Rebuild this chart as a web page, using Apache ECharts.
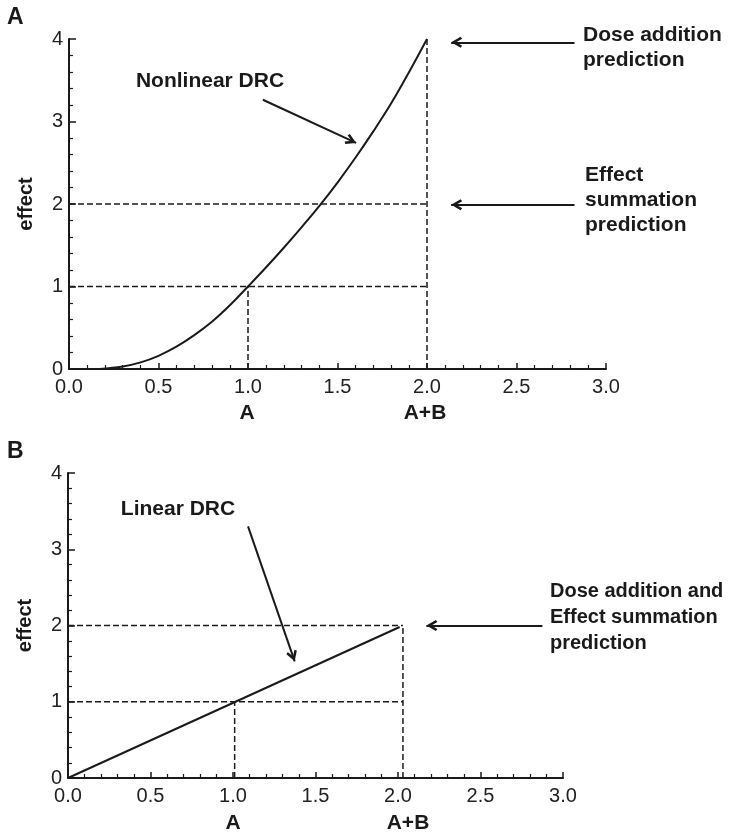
<!DOCTYPE html>
<html>
<head>
<meta charset="utf-8">
<script src="https://cdn.jsdelivr.net/npm/echarts@6/dist/echarts.min.js"></script>
<style>
  html, body { margin: 0; padding: 0; background: #fff; }
  #chart { width: 735px; height: 834px; }
</style>
</head>
<body>
<div id="chart"></div>
<script>
// ---- data ----
// panel A: nonlinear dose-response curve
var curveX = [0.17, 0.3, 0.4, 0.5, 0.6, 0.7, 0.8, 0.9, 1.0, 1.1, 1.2, 1.3, 1.4, 1.5, 1.6, 1.7, 1.8, 1.9, 2.0];
var curveY = [0, 0.03, 0.08, 0.16, 0.27, 0.41, 0.575, 0.775, 1.0, 1.23, 1.47, 1.72, 1.98, 2.26, 2.56, 2.88, 3.22, 3.6, 4.0];
// panel B: linear dose-response line
var lineX = [0, 2.01];
var lineY = [0, 1.98];

// dashed guides [x1, y1, x2, y2]
var guidesA = [[0, 1, 2.0, 1], [0, 2, 2.0, 2], [1.0, 0, 1.0, 1], [2.0, 0, 2.0, 4]];
var guidesB = [[0, 1, 2.03, 1], [0, 2, 2.03, 2], [1.01, 0, 1.01, 1], [2.03, 0, 2.03, 2]];

// annotation arrows [fromX, fromY, toX, toY]
var arrowsA = [[1.083, 3.264, 1.604, 2.74], [2.824, 3.96, 2.135, 3.96], [2.824, 1.99, 2.135, 1.99]];
var arrowsB = [[1.091, 3.30, 1.374, 1.53], [2.875, 2.0, 2.172, 2.0]];

var xTicks = { min: 0, max: 3, interval: 0.5 };
var yTicks = { min: 0, max: 4, interval: 1 };

var chart = echarts.init(document.getElementById('chart'));

var ink = '#1a1a1a';
var font = '"Liberation Sans", Arial, Helvetica, sans-serif';
var headPath = 'path://M5,0L10,8.6L8.2,10L5,4.6L1.8,10L0,8.6Z';

function xAxis(idx) {
  return {
    gridIndex: idx, type: 'value',
    min: xTicks.min, max: xTicks.max, interval: xTicks.interval,
    axisLine: { lineStyle: { color: ink, width: 2 } },
    axisTick: { inside: true, length: 6, lineStyle: { color: ink, width: 1.5 } },
    minorTick: { show: true, splitNumber: 5, length: 4, lineStyle: { color: ink, width: 1.2 } },
    splitLine: { show: false },
    axisLabel: { color: '#222', fontSize: 20, fontFamily: font, margin: 8,
      formatter: function(v) { return v.toFixed(1) } }
  }
}
function yAxis(idx) {
  return {
    gridIndex: idx, type: 'value',
    min: yTicks.min, max: yTicks.max, interval: yTicks.interval,
    name: 'effect', nameLocation: 'middle', nameRotate: 90, nameGap: 33,
    nameTextStyle: { color: ink, fontSize: 20, fontWeight: 'bold', fontFamily: font },
    axisLine: { lineStyle: { color: ink, width: 2 } },
    axisTick: { inside: true, length: 7, lineStyle: { color: ink, width: 1.5 } },
    minorTick: { show: true, splitNumber: 5, length: 4, lineStyle: { color: ink, width: 1.2 } },
    splitLine: { show: false },
    axisLabel: { color: '#222', fontSize: 20, fontFamily: font, margin: 6 }
  }
}

// dashed guide lines as two-point series
function guideSeries(list, idx) {
  return list.map(function(g) {
    return {
      type: 'line', xAxisIndex: idx, yAxisIndex: idx,
      data: [[g[0], g[1]], [g[2], g[3]]],
      showSymbol: false, silent: true, animation: false,
      lineStyle: { color: ink, width: 1.5, type: [6, 3] }
    }
  })
}
// arrows as mark lines
function arrowLines(list) {
  return {
    silent: true, animation: false,
    symbol: ['none', headPath], symbolSize: [11, 11], symbolOffset: [0, [0, 5.5]],
    label: { show: false },
    lineStyle: { color: ink, width: 2, type: 'solid' },
    data: list.map(function(a) {
      return [{ coord: [a[0], a[1]] }, { coord: [a[2], a[3]] }]
    })
  }
}

function txt(text, x, y, align, size, lh) {
  return {
    type: 'text', x: x, y: y, silent: true,
    style: { text: text, fill: ink, font: 'bold ' + (size || 21) + 'px ' + font,
      textAlign: align || 'left', textVerticalAlign: 'middle', lineHeight: lh || 25 }
  }
}

var option = {
  animation: false,
  grid: [
    { left: 69, top: 39, width: 537, height: 330 },
    { left: 68, top: 473, width: 495, height: 305 }
  ],
  xAxis: [xAxis(0), xAxis(1)],
  yAxis: [yAxis(0), yAxis(1)],
  series: [
    {
      name: 'Nonlinear DRC', type: 'line', xAxisIndex: 0, yAxisIndex: 0,
      data: curveX.map(function(x, i) { return [x, curveY[i]] }),
      showSymbol: false, smooth: 0.4, silent: true,
      lineStyle: { color: ink, width: 2 },
      markLine: arrowLines(arrowsA)
    },
    {
      name: 'Linear DRC', type: 'line', xAxisIndex: 1, yAxisIndex: 1,
      data: lineX.map(function(x, i) { return [x, lineY[i]] }),
      showSymbol: false, silent: true,
      lineStyle: { color: ink, width: 2 },
      markLine: arrowLines(arrowsB)
    }
  ].concat(guideSeries(guidesA, 0), guideSeries(guidesB, 1)),
  graphic: [
    txt('A', 7, 18, 'left', 23),
    txt('B', 7, 452, 'left', 23),
    txt('Nonlinear DRC', 210, 81, 'center'),
    txt('Dose addition\nprediction', 583, 47.5),
    txt('Effect\nsummation\nprediction', 585, 200),
    txt('A', 247, 413, 'center'),
    txt('A+B', 425, 413, 'center'),
    txt('Linear DRC', 178, 509.5, 'center'),
    txt('Dose addition and\nEffect summation\nprediction', 550, 617.5, 'left', 20, 26),
    txt('A', 233, 823, 'center'),
    txt('A+B', 408, 823, 'center')
  ]
};

chart.setOption(option);
</script>
</body>
</html>
